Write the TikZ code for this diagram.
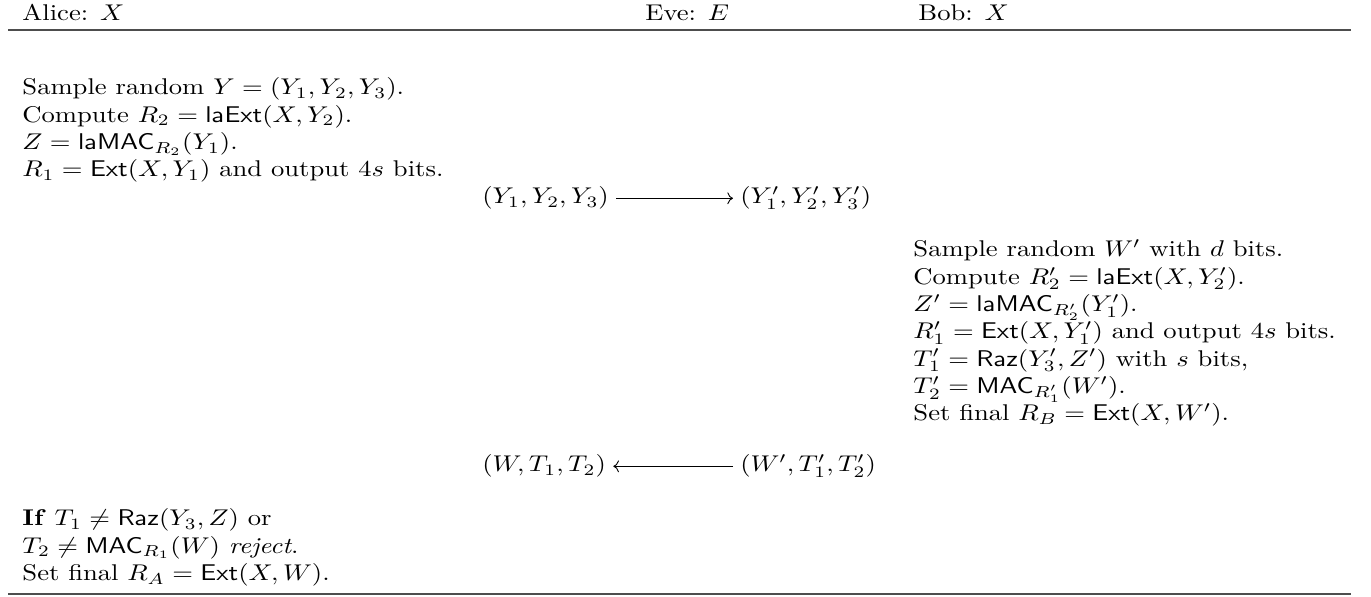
\documentclass[tikz,border=0pt]{standalone}
\usepackage{amsmath, amssymb}
\usepackage{graphicx}
\usepackage{tikz}
\usetikzlibrary{arrows.meta, positioning}
\usepackage{xcolor}
\definecolor{rulegray}{HTML}{4D4D4D}
\newcommand{\wtxt}[1]{\scalebox{1.17}[1.0]{#1}}

\begin{document}
\begin{tikzpicture}[x=0.4396pt, y=-0.4396pt, >={Computer Modern Rightarrow},
  line/.style={anchor=base west, inner sep=0pt},
  tuple/.style={anchor=base west, inner xsep=3pt, inner ysep=0pt,
    text height=7.5pt, text depth=2.5pt},
  hrule/.style={line width=0.9pt, rulegray}]
  \useasboundingbox (0,0) rectangle (1371,597);

  % Header
  \node[line] (hdAlice) at (22, 20.5) {\wtxt{Alice: $X$}};
  \node[line] (hdEve) at (645, 20.5) {\wtxt{Eve: $E$}};
  \node[line] (hdBob) at (918, 20.5) {\wtxt{Bob: $X$}};
  \draw[hrule] (8, 30) -- (1351, 30);

  % Alice
  \foreach \t [count=\i] in {
    {Sample random $Y=(Y_1,Y_2,Y_3)$.},
    {Compute $R_2=\mathsf{laExt}(X,Y_2)$.},
    {$Z=\mathsf{laMAC}_{R_2}(Y_1)$.},
    {$R_1=\mathsf{Ext}(X,Y_1)$ and output $4s$ bits.}} {
    \node[line] (alice\i) at (22, {95+(\i-1)*27.3}) {\wtxt{\t}};
  }

  % First message
  \node[tuple] (ya) at (475, 204) {\wtxt{$(Y_1,Y_2,Y_3)$}};
  \node[tuple] (yb) at (733, 204) {\wtxt{$(Y_1',Y_2',Y_3')$}};
  \draw[->] (ya) -- (yb);

  % Bob
  \foreach \t [count=\i] in {
    {Sample random $W'$ with $d$ bits.},
    {Compute $R_2'=\mathsf{laExt}(X,Y_2')$.},
    {$Z'=\mathsf{laMAC}_{R_2'}(Y_1')$.},
    {$R_1'=\mathsf{Ext}(X,Y_1')$ and output $4s$ bits.},
    {$T_1'=\mathsf{Raz}(Y_3',Z')$ with $s$ bits,},
    {$T_2'=\mathsf{MAC}_{R_1'}(W')$.},
    {Set final $R_B=\mathsf{Ext}(X,W')$.}} {
    \node[line] (bob\i) at (913, {257+(\i-1)*27.3}) {\wtxt{\t}};
  }

  % Second message
  \node[tuple] (wa) at (475, 472) {\wtxt{$(W,T_1,T_2)$}};
  \node[tuple] (wb) at (733, 472) {\wtxt{$(W',T_1',T_2')$}};
  \draw[->] (wb) -- (wa);

  % Alice checks
  \foreach \t [count=\i] in {
    {\textbf{If} $T_1\neq\mathsf{Raz}(Y_3,Z)$ or},
    {$T_2\neq\mathsf{MAC}_{R_1}(W)$ \emph{reject}.},
    {Set final $R_A=\mathsf{Ext}(X,W)$.}} {
    \node[line] (check\i) at (22, {526+(\i-1)*27.3}) {\wtxt{\t}};
  }
  \draw[hrule] (8, 594) -- (1351, 594);
\end{tikzpicture}
\end{document}
